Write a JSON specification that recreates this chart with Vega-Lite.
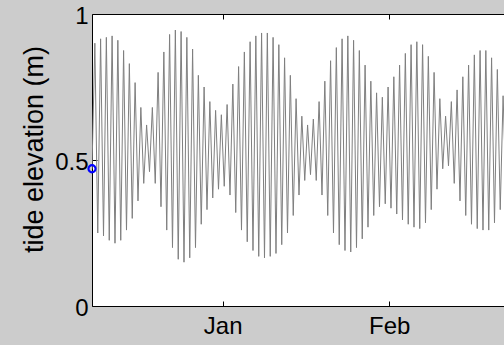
{
  "$schema": "https://vega.github.io/schema/vega-lite/v6.json",
  "autosize": {"type": "none"},
  "padding": {"left": 92, "top": 14, "right": 0, "bottom": 39},
  "width": 412,
  "height": 292,
  "background": "#cccccc",
  "config": {"view": {"fill": "white", "stroke": null}, "font": "Liberation Sans"},
  "datasets": {
    "tide": [
      {"d": -24.32, "h": 0.47},
      {"d": -23.79, "h": 0.90}, {"d": -23.25, "h": 0.25},
      {"d": -22.72, "h": 0.915}, {"d": -22.18, "h": 0.24},
      {"d": -21.65, "h": 0.92}, {"d": -21.11, "h": 0.225},
      {"d": -20.58, "h": 0.925}, {"d": -20.04, "h": 0.215},
      {"d": -19.51, "h": 0.91}, {"d": -18.97, "h": 0.225},
      {"d": -18.44, "h": 0.875}, {"d": -17.90, "h": 0.26},
      {"d": -17.37, "h": 0.83}, {"d": -16.83, "h": 0.30},
      {"d": -16.30, "h": 0.765}, {"d": -15.76, "h": 0.36},
      {"d": -15.23, "h": 0.68}, {"d": -14.69, "h": 0.42},
      {"d": -14.16, "h": 0.62}, {"d": -13.62, "h": 0.46},
      {"d": -13.09, "h": 0.68}, {"d": -12.55, "h": 0.42},
      {"d": -12.02, "h": 0.80}, {"d": -11.48, "h": 0.34},
      {"d": -10.95, "h": 0.87}, {"d": -10.41, "h": 0.26},
      {"d": -9.88, "h": 0.93}, {"d": -9.34, "h": 0.20},
      {"d": -8.81, "h": 0.945}, {"d": -8.27, "h": 0.16},
      {"d": -7.74, "h": 0.94}, {"d": -7.20, "h": 0.15},
      {"d": -6.67, "h": 0.92}, {"d": -6.13, "h": 0.165},
      {"d": -5.60, "h": 0.88}, {"d": -5.06, "h": 0.20},
      {"d": -4.53, "h": 0.79}, {"d": -3.99, "h": 0.28},
      {"d": -3.46, "h": 0.75}, {"d": -2.92, "h": 0.33},
      {"d": -2.39, "h": 0.70}, {"d": -1.85, "h": 0.37},
      {"d": -1.32, "h": 0.67}, {"d": -0.78, "h": 0.40},
      {"d": -0.25, "h": 0.655}, {"d": 0.29, "h": 0.41},
      {"d": 0.82, "h": 0.69}, {"d": 1.36, "h": 0.38},
      {"d": 1.89, "h": 0.76}, {"d": 2.43, "h": 0.32},
      {"d": 2.96, "h": 0.82}, {"d": 3.50, "h": 0.26},
      {"d": 4.03, "h": 0.87}, {"d": 4.57, "h": 0.22},
      {"d": 5.10, "h": 0.905}, {"d": 5.64, "h": 0.19},
      {"d": 6.17, "h": 0.925}, {"d": 6.71, "h": 0.17},
      {"d": 7.24, "h": 0.935}, {"d": 7.78, "h": 0.165},
      {"d": 8.31, "h": 0.935}, {"d": 8.85, "h": 0.17},
      {"d": 9.38, "h": 0.92}, {"d": 9.92, "h": 0.18},
      {"d": 10.45, "h": 0.895}, {"d": 10.99, "h": 0.21},
      {"d": 11.52, "h": 0.85}, {"d": 12.06, "h": 0.25},
      {"d": 12.59, "h": 0.79}, {"d": 13.13, "h": 0.31},
      {"d": 13.66, "h": 0.71}, {"d": 14.20, "h": 0.38},
      {"d": 14.73, "h": 0.65}, {"d": 15.27, "h": 0.43},
      {"d": 15.80, "h": 0.62}, {"d": 16.34, "h": 0.45},
      {"d": 16.87, "h": 0.64}, {"d": 17.41, "h": 0.43},
      {"d": 17.94, "h": 0.70}, {"d": 18.48, "h": 0.38},
      {"d": 19.01, "h": 0.77}, {"d": 19.55, "h": 0.31},
      {"d": 20.08, "h": 0.84}, {"d": 20.62, "h": 0.25},
      {"d": 21.15, "h": 0.885}, {"d": 21.69, "h": 0.21},
      {"d": 22.22, "h": 0.915}, {"d": 22.76, "h": 0.19},
      {"d": 23.29, "h": 0.925}, {"d": 23.83, "h": 0.185},
      {"d": 24.36, "h": 0.91}, {"d": 24.90, "h": 0.20},
      {"d": 25.43, "h": 0.875}, {"d": 25.97, "h": 0.23},
      {"d": 26.50, "h": 0.825}, {"d": 27.04, "h": 0.27},
      {"d": 27.57, "h": 0.77}, {"d": 28.11, "h": 0.31},
      {"d": 28.64, "h": 0.73}, {"d": 29.18, "h": 0.34},
      {"d": 29.71, "h": 0.715}, {"d": 30.25, "h": 0.35},
      {"d": 30.78, "h": 0.75}, {"d": 31.32, "h": 0.335},
      {"d": 31.85, "h": 0.785}, {"d": 32.39, "h": 0.315},
      {"d": 32.92, "h": 0.825}, {"d": 33.46, "h": 0.295},
      {"d": 33.99, "h": 0.865}, {"d": 34.53, "h": 0.28},
      {"d": 35.06, "h": 0.895}, {"d": 35.60, "h": 0.27},
      {"d": 36.13, "h": 0.905}, {"d": 36.67, "h": 0.265},
      {"d": 37.20, "h": 0.895}, {"d": 37.74, "h": 0.285},
      {"d": 38.27, "h": 0.855}, {"d": 38.81, "h": 0.33},
      {"d": 39.34, "h": 0.80}, {"d": 39.88, "h": 0.40},
      {"d": 40.41, "h": 0.71}, {"d": 40.95, "h": 0.47},
      {"d": 41.48, "h": 0.65}, {"d": 42.02, "h": 0.48},
      {"d": 42.55, "h": 0.70}, {"d": 43.09, "h": 0.42},
      {"d": 43.62, "h": 0.74}, {"d": 44.16, "h": 0.36},
      {"d": 44.69, "h": 0.785}, {"d": 45.23, "h": 0.31},
      {"d": 45.76, "h": 0.825}, {"d": 46.30, "h": 0.28},
      {"d": 46.83, "h": 0.86}, {"d": 47.37, "h": 0.265},
      {"d": 47.90, "h": 0.875}, {"d": 48.44, "h": 0.26},
      {"d": 48.97, "h": 0.875}, {"d": 49.51, "h": 0.26},
      {"d": 50.04, "h": 0.85}, {"d": 50.58, "h": 0.285},
      {"d": 51.11, "h": 0.81}, {"d": 51.65, "h": 0.33},
      {"d": 52.18, "h": 0.72}, {"d": 52.72, "h": 0.40}
    ],
    "start": [{"d": -24.32, "h": 0.47}]
  },
  "layer": [
    {
      "data": {"name": "tide"},
      "mark": {"type": "line", "color": "#7f7f7f", "strokeWidth": 1, "clip": true},
      "encoding": {
        "x": {
          "field": "d", "type": "quantitative",
          "scale": {"domain": [-24.32, 52.35], "nice": false, "zero": false},
          "axis": {
            "orient": "bottom", "values": [0, 31],
            "labelExpr": "datum.value < 15 ? 'Jan' : 'Feb'",
            "tickSize": -5, "tickColor": "black", "domainColor": "black",
            "labelFontSize": 24, "labelColor": "black", "labelPadding": 13,
            "labelFont": "Liberation Sans", "title": null, "grid": false
          }
        },
        "y": {
          "field": "h", "type": "quantitative",
          "scale": {"domain": [0, 1], "nice": false, "zero": false},
          "axis": {
            "values": [0, 0.5, 1], "format": "~g",
            "tickSize": -5, "tickColor": "black", "domainColor": "black",
            "labelFontSize": 24, "labelColor": "black", "labelPadding": 9,
            "labelFont": "Liberation Sans", "labelOffset": 2,
            "title": "tide elevation (m)", "titleFontSize": 27,
            "titleFontWeight": "normal", "titleColor": "black",
            "titleFont": "Liberation Sans",
            "titleAngle": 270, "titleX": -58, "titleY": 135,
            "titleAlign": "center", "titleBaseline": "middle", "grid": false
          }
        }
      }
    },
    {
      "data": {"name": "start"},
      "mark": {"type": "point", "shape": "circle", "filled": false, "color": "#0000ff", "strokeWidth": 2.2, "size": 50, "opacity": 1, "clip": false},
      "encoding": {
        "x": {
          "field": "d", "type": "quantitative",
          "axis": {
            "orient": "top", "values": [0, 31], "labels": false,
            "tickSize": -5, "tickColor": "black", "domainColor": "black",
            "title": null, "grid": false
          }
        },
        "y": {"field": "h", "type": "quantitative"}
      }
    }
  ],
  "resolve": {"axis": {"x": "independent"}}
}
